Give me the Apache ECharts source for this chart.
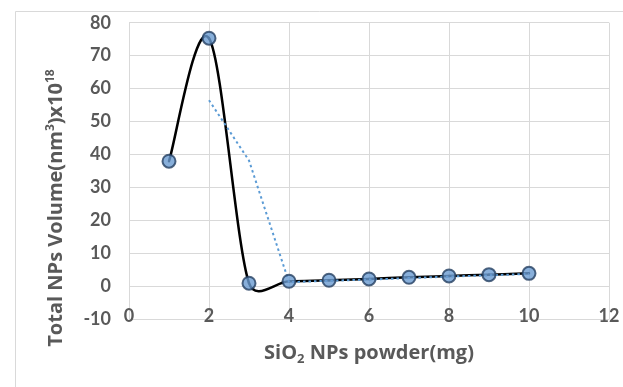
<!DOCTYPE html>
<html>
<head>
<meta charset="utf-8">
<script src="https://cdn.jsdelivr.net/npm/echarts@6/dist/echarts.min.js"></script>
<style>html,body{margin:0;padding:0;background:#fff}#c{width:623px;height:387px}</style>
</head>
<body>
<div id="c"></div>
<script>
const xValues = [1, 2, 3, 4, 5, 6, 7, 8, 9, 10];
const volumes = [38, 75.3, 1.0, 1.6, 1.9, 2.3, 2.8, 3.2, 3.6, 4.0];
const movingAvg = [null, 56.5, 38.2, 1.3, 1.75, 2.1, 2.55, 3.0, 3.4, 3.8];
const xTicks = [0, 2, 4, 6, 8, 10, 12];
const yTicks = [-10, 0, 10, 20, 30, 40, 50, 60, 70, 80];

const gray = '#595959';
const font = 'Lato';
const titleFont = 'Open Sans';
const pts = xValues.map((x, i) => [x, volumes[i]]);
const maPts = xValues.map((x, i) => [x, movingAvg[i]]).filter(p => p[1] !== null);

// Excel-like smoothed line: Catmull-Rom style Bezier, arms limited by segment length
function smoothRender(params, api) {
  if (params.dataIndex !== 0) return null;
  const P = pts.map(p => api.coord(p));
  const n = P.length;
  const cpIn = [], cpOut = [];
  for (let i = 0; i < n; i++) {
    const a = P[Math.max(0, i - 1)], c = P[Math.min(n - 1, i + 1)], b = P[i];
    let tx = (c[0] - a[0]) / 6, ty = (c[1] - a[1]) / 6;
    const L = Math.hypot(tx, ty) || 1;
    const ux = tx / L, uy = ty / L;
    const dPrev = i > 0 ? Math.hypot(b[0] - a[0], b[1] - a[1]) : 0;
    const dNext = i < n - 1 ? Math.hypot(c[0] - b[0], c[1] - b[1]) : 0;
    const lin = Math.min(L, 0.5 * dPrev), lout = Math.min(L, 0.5 * dNext);
    cpIn.push([b[0] - ux * lin, b[1] - uy * lin]);
    cpOut.push([b[0] + ux * lout, b[1] + uy * lout]);
  }
  const children = [];
  for (let i = 0; i < n - 1; i++) {
    const c1 = cpOut[i], c2 = cpIn[i + 1];
    children.push({
      type: 'bezierCurve',
      shape: {x1: P[i][0], y1: P[i][1], cpx1: c1[0], cpy1: c1[1], cpx2: c2[0], cpy2: c2[1], x2: P[i + 1][0], y2: P[i + 1][1]},
      style: {stroke: '#000', lineWidth: 2.5, fill: null, lineCap: 'round'}
    });
  }
  return {type: 'group', children};
}

const chart = echarts.init(document.getElementById('c'), null, {renderer: 'canvas'});
chart.setOption({
  animation: false,
  backgroundColor: '#fff',
  grid: {left: 129, right: 14, top: 22.7, bottom: 67.5, containLabel: false},
  xAxis: {
    type: 'value', min: xTicks[0], max: xTicks[xTicks.length - 1], interval: 2,
    axisLine: {show: false}, axisTick: {show: false},
    splitLine: {show: true, lineStyle: {color: '#d9d9d9', width: 1}},
    axisLabel: {color: gray, fontFamily: font, fontWeight: 'bold', fontSize: 18, margin: -12},
    name: '{n|SiO}{s|2}{n| NPs powder(mg)}',
    nameLocation: 'middle', nameGap: 21,
    nameTextStyle: {
      rich: {
        n: {color: gray, fontFamily: titleFont, fontWeight: 'bold', fontSize: 20},
        s: {color: gray, fontFamily: titleFont, fontWeight: 'bold', fontSize: 13, padding: [12, 0, 0, 0]}
      }
    }
  },
  yAxis: {
    type: 'value', min: yTicks[0], max: yTicks[yTicks.length - 1], interval: 10,
    axisLine: {show: false}, axisTick: {show: false},
    splitLine: {show: true, lineStyle: {color: '#d9d9d9', width: 1}},
    axisLabel: {color: gray, fontFamily: font, fontWeight: 'bold', fontSize: 18, margin: 18}
  },
  graphic: [
    {type: 'rect', left: 13, top: 9, shape: {width: 700, height: 500}, style: {fill: 'none', stroke: '#d9d9d9', lineWidth: 1}, silent: true, z: -1},
    {
      type: 'text', x: 56, y: 208, rotation: Math.PI / 2,
      style: {
        text: '{n|Total NPs Volume(nm}{p|3}{n|)x10}{p|18}',
        align: 'center', verticalAlign: 'middle',
        rich: {
          n: {fill: gray, fontFamily: titleFont, fontWeight: 'bold', fontSize: 20},
          p: {fill: gray, fontFamily: titleFont, fontWeight: 'bold', fontSize: 12, padding: [0, 0, 11, 0]}
        }
      }
    }
  ],
  series: [
    {type: 'custom', data: pts, renderItem: smoothRender, z: 2, clip: false},
    {type: 'line', data: maPts, showSymbol: false, lineStyle: {color: '#5b9bd5', width: 2, type: [2.5, 3]}, z: 3},
    {type: 'scatter', data: pts, symbol: 'circle', symbolSize: 13,
     itemStyle: {color: '#6a9bd1', borderColor: '#243f60', borderWidth: 2}, z: 4}
  ]
});
</script>
</body>
</html>
